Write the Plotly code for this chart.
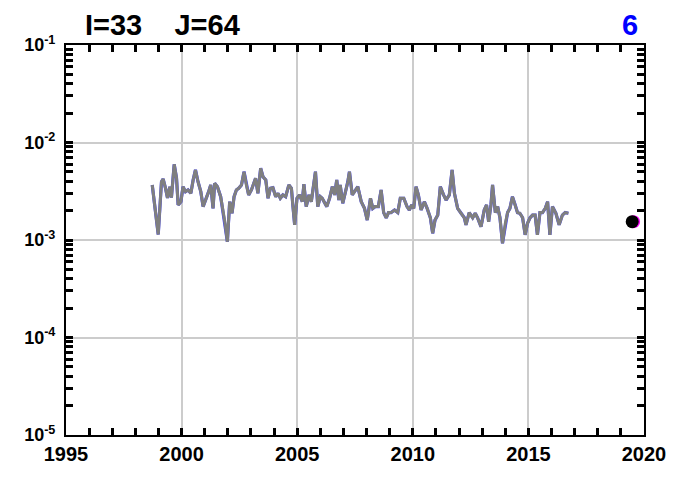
import plotly.graph_objects as go

# time series (decimal year, value)
years = [
    1998.73, 1998.99, 1999.13, 1999.20, 1999.30, 1999.39, 1999.49, 1999.56, 1999.68, 1999.78,
    1999.85, 1999.97, 2000.06, 2000.17, 2000.28, 2000.40, 2000.50, 2000.60, 2000.71, 2000.83,
    2000.93, 2001.08, 2001.17, 2001.26, 2001.36, 2001.43, 2001.55, 2001.69, 2001.87, 2001.98,
    2002.08, 2002.18, 2002.27, 2002.37, 2002.47, 2002.59, 2002.70, 2002.80, 2002.90, 2003.02,
    2003.20, 2003.30, 2003.42, 2003.52, 2003.64, 2003.74, 2003.84, 2003.95, 2004.07, 2004.17,
    2004.27, 2004.38, 2004.50, 2004.64, 2004.75, 2004.81, 2004.89, 2004.99, 2005.10, 2005.22,
    2005.29, 2005.39, 2005.51, 2005.61, 2005.71, 2005.79, 2005.89, 2006.00, 2006.08, 2006.18,
    2006.28, 2006.40, 2006.52, 2006.62, 2006.71, 2006.80, 2006.86, 2006.97, 2007.09, 2007.19,
    2007.26, 2007.38, 2007.48, 2007.62, 2007.77, 2007.91, 2008.03, 2008.17, 2008.27, 2008.37,
    2008.51, 2008.63, 2008.74, 2008.85, 2008.95, 2009.06, 2009.21, 2009.35, 2009.46, 2009.61,
    2009.75, 2009.85, 2009.95, 2010.04, 2010.14, 2010.24, 2010.36, 2010.50, 2010.62, 2010.76,
    2010.86, 2010.96, 2011.08, 2011.19, 2011.33, 2011.44, 2011.58, 2011.70, 2011.80, 2011.94,
    2012.09, 2012.23, 2012.30, 2012.44, 2012.59, 2012.70, 2012.80, 2012.95, 2013.09, 2013.19,
    2013.28, 2013.38, 2013.45, 2013.57, 2013.67, 2013.77, 2013.88, 2014.00, 2014.10, 2014.20,
    2014.31, 2014.43, 2014.53, 2014.63, 2014.75, 2014.86, 2014.96, 2015.07, 2015.18, 2015.29,
    2015.39, 2015.50, 2015.61, 2015.73, 2015.83, 2015.93, 2016.04, 2016.19, 2016.33, 2016.47,
    2016.59, 2016.73,
]
values = [
    3.67e-3, 1.14e-3, 3.96e-3, 4.23e-3, 3.42e-3, 2.70e-3, 3.52e-3, 2.72e-3, 5.98e-3, 4.33e-3,
    2.29e-3, 2.47e-3, 3.52e-3, 3.13e-3, 3.26e-3, 3.01e-3, 4.13e-3, 5.23e-3, 3.96e-3, 3.13e-3,
    2.20e-3, 2.68e-3, 3.13e-3, 3.67e-3, 2.11e-3, 3.82e-3, 3.52e-3, 2.78e-3, 1.54e-3, 0.96e-3,
    2.47e-3, 1.88e-3, 2.78e-3, 3.26e-3, 3.39e-3, 3.67e-3, 5.02e-3, 3.67e-3, 2.90e-3, 3.26e-3,
    4.30e-3, 3.01e-3, 5.44e-3, 4.46e-3, 4.13e-3, 2.68e-3, 3.39e-3, 3.44e-3, 2.78e-3, 3.01e-3,
    2.68e-3, 2.90e-3, 2.78e-3, 3.67e-3, 3.39e-3, 2.29e-3, 1.43e-3, 2.68e-3, 2.90e-3, 2.47e-3,
    3.73e-3, 2.20e-3, 2.90e-3, 2.47e-3, 3.67e-3, 5.02e-3, 2.20e-3, 2.78e-3, 2.68e-3, 2.38e-3,
    2.20e-3, 2.68e-3, 3.52e-3, 2.90e-3, 4.13e-3, 2.57e-3, 3.67e-3, 2.38e-3, 3.13e-3, 3.96e-3,
    5.02e-3, 2.90e-3, 3.13e-3, 3.52e-3, 2.47e-3, 2.11e-3, 1.60e-3, 2.68e-3, 2.11e-3, 2.20e-3,
    2.20e-3, 3.26e-3, 1.91e-3, 1.69e-3, 1.91e-3, 1.91e-3, 2.03e-3, 1.91e-3, 2.68e-3, 2.68e-3,
    2.20e-3, 2.03e-3, 2.29e-3, 2.11e-3, 3.52e-3, 2.90e-3, 2.03e-3, 2.47e-3, 2.11e-3, 1.69e-3,
    1.17e-3, 1.60e-3, 1.80e-3, 3.52e-3, 2.90e-3, 2.57e-3, 2.90e-3, 5.23e-3, 3.01e-3, 2.11e-3,
    1.88e-3, 1.69e-3, 1.43e-3, 1.91e-3, 1.69e-3, 1.88e-3, 1.69e-3, 1.37e-3, 2.03e-3, 2.29e-3,
    1.54e-3, 2.29e-3, 3.67e-3, 1.91e-3, 2.20e-3, 1.69e-3, 0.925e-3, 1.48e-3, 1.91e-3, 2.11e-3,
    2.78e-3, 2.29e-3, 1.91e-3, 1.88e-3, 1.69e-3, 1.13e-3, 1.48e-3, 1.69e-3, 1.80e-3, 1.80e-3,
    1.13e-3, 1.91e-3, 1.91e-3, 2.11e-3, 2.47e-3, 1.13e-3, 2.20e-3, 1.88e-3, 1.43e-3, 1.80e-3,
    1.91e-3, 1.88e-3,
]

# single point near the right edge (black dot, magenta behind)
dot_year = [2019.49]
dot_value = [1.54e-3]
dot_year_back = [2019.55]

x_ticks = [1995, 2000, 2005, 2010, 2015, 2020]
x_all = list(range(1995, 2021))
y_ticks = [1e-5, 1e-4, 1e-3, 1e-2, 1e-1]
y_labels = ["10<sup>-5</sup>", "10<sup>-4</sup>", "10<sup>-3</sup>", "10<sup>-2</sup>", "10<sup>-1</sup>"]
# log tick positions 1..9 within each decade, plus the top decade
y_all = [m * 10.0 ** e for e in range(-5, -1) for m in range(1, 10)] + [1e-1]

x_text = [str(v) if v in x_ticks else "" for v in x_all]
# trailing no-break space keeps the labels a little away from the axis
y_text = [y_labels[i // 9] + "\u00a0" if i % 9 == 0 else "" for i in range(len(y_all))]

FONT = "Arial, Liberation Sans, sans-serif"

fig = go.Figure()

# invisible point on the main axes (which only carry tick marks and labels)
fig.add_trace(go.Scatter(x=[1995], y=[1e-5], mode="markers", marker=dict(opacity=0),
                         hoverinfo="skip"))

# data on the overlay axes, which carry the grid
fig.add_trace(go.Scatter(x=years, y=values, mode="lines", xaxis="x2", yaxis="y2",
                         line=dict(color="#4040ff", width=3.2), hoverinfo="skip"))
fig.add_trace(go.Scatter(x=years, y=values, mode="lines", xaxis="x2", yaxis="y2",
                         line=dict(color="#7f7f7f", width=3)))
fig.add_trace(go.Scatter(x=dot_year_back, y=dot_value, mode="markers", xaxis="x2", yaxis="y2",
                         marker=dict(color="#ff00ff", size=13, line=dict(width=0))))
fig.add_trace(go.Scatter(x=dot_year, y=dot_value, mode="markers", xaxis="x2", yaxis="y2",
                         marker=dict(color="black", size=13, line=dict(width=0))))

# page body adds 8px around the figure, so size the figure to fit the window
fig.update_layout(
    width=670, height=461,
    margin=dict(l=58, r=34, t=37, b=34),
    paper_bgcolor="white", plot_bgcolor="white",
    showlegend=False,
    font=dict(family=FONT, color="black"),
    xaxis=dict(
        range=[1995, 2020], tickmode="array", tickvals=x_all, ticktext=x_text,
        automargin=False,
        ticks="inside", ticklen=7, tickwidth=2.5, tickcolor="black",
        showline=True, linecolor="black", linewidth=2, mirror="allticks",
        showgrid=False, zeroline=False,
        tickfont=dict(family=FONT, size=20, weight="bold"),
    ),
    yaxis=dict(
        type="log", range=[-5, -1], automargin=False,
        tickmode="array", tickvals=y_all, ticktext=y_text,
        ticks="inside", ticklen=7, tickwidth=2.5, tickcolor="black",
        showline=True, linecolor="black", linewidth=2, mirror="allticks",
        showgrid=False, zeroline=False,
        tickfont=dict(family=FONT, size=18, weight="bold"),
    ),
    xaxis2=dict(
        overlaying="x", side="bottom", range=[1995, 2020], automargin=False,
        tickvals=x_ticks, showticklabels=False, ticks="",
        showgrid=True, gridcolor="#cccccc", gridwidth=2,
        showline=False, zeroline=False,
    ),
    yaxis2=dict(
        overlaying="y", side="left", type="log", range=[-5, -1], automargin=False,
        tickvals=y_ticks, showticklabels=False, ticks="",
        showgrid=True, gridcolor="#cccccc", gridwidth=2,
        showline=False, zeroline=False,
    ),
)

fig.add_annotation(text="I=33    J=64", xref="paper", yref="paper", x=0.03, y=1.0,
                   xanchor="left", yanchor="bottom", yshift=2, showarrow=False,
                   font=dict(family=FONT, size=29, color="black", weight="bold"))
fig.add_annotation(text="6", xref="paper", yref="paper", x=0.993, y=1.0,
                   xanchor="right", yanchor="bottom", yshift=2, showarrow=False,
                   font=dict(family=FONT, size=29, color="#0000ff", weight="bold"))

fig.write_html("out.html")
